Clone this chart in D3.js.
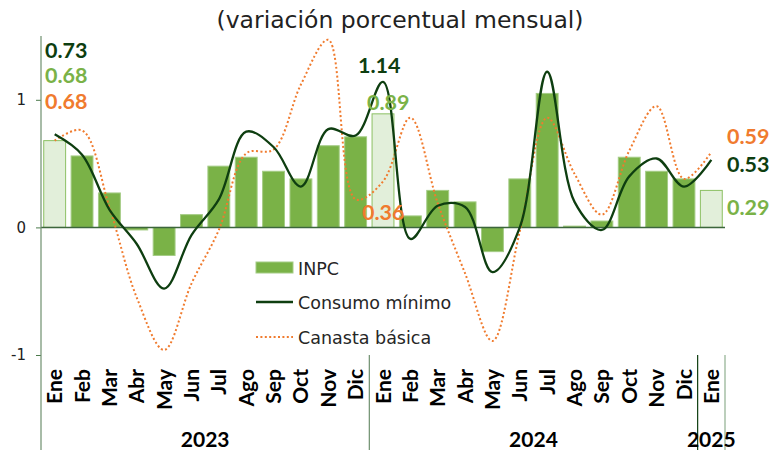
<!DOCTYPE html>
<html lang="es">
<head>
<meta charset="utf-8">
<title>INPC, consumo mínimo y canasta básica</title>
<script src="https://d3js.org/d3.v7.min.js"></script>
<style>
  body { margin: 0; background: #fff; }
  svg { display: block; }
  .month text { font-family: Lato, sans-serif; font-weight: 700; font-size: 21px; fill: #000; }
  .yaxis text { font-family: "DejaVu Sans", sans-serif; font-size: 15px; fill: #222; }
  .lab { font-family: Lato, sans-serif; font-weight: 700; font-size: 21.5px; }
  .leg { font-family: "DejaVu Sans", sans-serif; font-size: 17.5px; fill: #262626; }
</style>
</head>
<body>
<script>
const w = 773, h = 450;

// meses (ene 2023 - ene 2025)
const months = ["Ene","Feb","Mar","Abr","May","Jun","Jul","Ago","Sep","Oct","Nov","Dic",
                "Ene","Feb","Mar","Abr","May","Jun","Jul","Ago","Sep","Oct","Nov","Dic",
                "Ene"];
const years = ["2023", "2024", "2025"];
const yearCounts = [12, 12, 1];

// INPC (barras)
const inpc = [0.68, 0.56, 0.27, -0.02, -0.22, 0.10, 0.48, 0.55, 0.44, 0.38, 0.64, 0.71,
              0.89, 0.09, 0.29, 0.20, -0.19, 0.38, 1.05, 0.01, 0.05, 0.55, 0.44, 0.38,
              0.29];
// Consumo mínimo (línea continua)
const consumo = [0.73, 0.57, 0.14, -0.13, -0.48, -0.06, 0.22, 0.75, 0.63, 0.32, 0.77, 0.72,
                 1.14, -0.09, 0.17, 0.16, -0.35, 0.00, 1.22, 0.20, -0.02, 0.40, 0.54, 0.32,
                 0.53];
// Canasta básica (línea punteada)
const canasta = [0.68, 0.76, 0.16, -0.55, -0.96, -0.44, -0.02, 0.58, 0.61, 1.12, 1.47, 0.22,
                 0.36, 0.86, 0.19, -0.36, -0.89, -0.03, 0.86, 0.42, 0.10, 0.60, 0.95, 0.38,
                 0.59];
const yTicks = [-1, 0, 1];

const cBar = "#7AB247", cBarLight = "#E2EFDA", cDark = "#0E3E10", cOrange = "#F07B2E";

const svg = d3.select("body").append("svg").attr("width", w).attr("height", h);

const x = d3.scaleBand().domain(d3.range(months.length))
  .range([41, 725]).paddingInner(0.2).paddingOuter(0.1);
const y = d3.scaleLinear().domain([-1, 1.5]).range([355, 36]);
const cx = i => x(i) + x.bandwidth() / 2;
const isEne = i => i === 0 || i === 12 || i === 24;

// title
svg.append("text").attr("x", 400).attr("y", 28).attr("text-anchor", "middle")
  .style("font-family", "DejaVu Sans, sans-serif").style("font-size", "23.5px").style("fill", "#222")
  .text("(variación porcentual mensual)");

// bars
svg.append("g").selectAll("rect").data(inpc).join("rect")
  .attr("x", (d, i) => x(i))
  .attr("width", x.bandwidth())
  .attr("y", d => y(Math.max(0, d)))
  .attr("height", d => Math.abs(y(d) - y(0)))
  .attr("fill", (d, i) => isEne(i) ? cBarLight : cBar)
  .attr("stroke", (d, i) => isEne(i) ? "#8CC063" : "#A4CC85")
  .attr("stroke-width", 1);

// zero line
svg.append("line").attr("x1", 41).attr("x2", 725).attr("y1", y(0)).attr("y2", y(0))
  .attr("stroke", "#3C663C").attr("stroke-width", 1.5);

// lines
const line = d3.line().x((d, i) => cx(i)).y(d => y(d)).curve(d3.curveCatmullRom.alpha(0.5));
svg.append("path").datum(canasta).attr("d", line).attr("fill", "none")
  .attr("stroke", cOrange).attr("stroke-width", 2).attr("stroke-dasharray", "2 2.4");
svg.append("path").datum(consumo).attr("d", line).attr("fill", "none")
  .attr("stroke", cDark).attr("stroke-width", 2.3);

// y axis
const yAxis = svg.append("g").attr("class", "yaxis").attr("transform", "translate(41,0)")
  .call(d3.axisLeft(y).tickValues(yTicks).tickSize(5).tickPadding(10).tickFormat(d => String(d)));
yAxis.select(".domain").remove();
yAxis.selectAll(".tick line").attr("stroke", "#4C7A4C");
svg.append("line").attr("x1", 41).attr("x2", 41).attr("y1", 36).attr("y2", h)
  .attr("stroke", "#6E8F6E").attr("stroke-width", 1.2);

// month axis
const xAxis = svg.append("g").attr("class", "month").attr("transform", "translate(0,355)")
  .call(d3.axisBottom(x).tickSize(0).tickFormat(i => months[i]));
xAxis.select(".domain").remove();
xAxis.selectAll("text")
  .attr("transform", "rotate(-90)").attr("x", -14).attr("y", 0).attr("dy", "0.36em")
  .style("text-anchor", "end");

// year separators and labels
const bounds = [0];
yearCounts.forEach(n => bounds.push(bounds[bounds.length - 1] + n));
const bx = i => i >= months.length ? x.range()[1] : x(i) - x.step() * x.paddingOuter();
const sepColors = [null, "#6E8F6E", "#0E3E10", "#8FAF8F"];
bounds.forEach((b, k) => {
  if (k === 0) return;
  svg.append("line").attr("x1", bx(b)).attr("x2", bx(b)).attr("y1", 355).attr("y2", h)
    .attr("stroke", sepColors[k]).attr("stroke-width", 1.2);
});
years.forEach((yr, k) => {
  svg.append("text").attr("x", (bx(bounds[k]) + bx(bounds[k + 1])) / 2).attr("y", 447)
    .attr("text-anchor", "middle")
    .style("font-family", "Lato, sans-serif").style("font-weight", 700).style("font-size", "21px")
    .text(yr);
});

// data labels
const fmt = d3.format(".2f");
const labels = [
  {v: consumo[0], c: cDark, x: 45, y: 58},
  {v: inpc[0], c: cBar, x: 45, y: 83},
  {v: canasta[0], c: cOrange, x: 45, y: 109},
  {v: consumo[12], c: cDark, x: 358, y: 73},
  {v: inpc[12], c: cBar, x: 367, y: 110},
  {v: canasta[12], c: cOrange, x: 362, y: 220},
  {v: canasta[24], c: cOrange, x: 727, y: 144},
  {v: consumo[24], c: cDark, x: 727, y: 172},
  {v: inpc[24], c: cBar, x: 727, y: 215}
];
svg.append("g").selectAll("text").data(labels).join("text")
  .attr("class", "lab").attr("x", d => d.x).attr("y", d => d.y)
  .attr("fill", d => d.c).text(d => fmt(d.v));

// legend
const leg = svg.append("g").attr("transform", "translate(256,0)");
leg.append("rect").attr("x", 0).attr("y", 262).attr("width", 37).attr("height", 11)
  .attr("fill", cBar).attr("stroke", "#A4CC85");
leg.append("line").attr("x1", 0).attr("x2", 37).attr("y1", 302).attr("y2", 302)
  .attr("stroke", cDark).attr("stroke-width", 2.3);
leg.append("line").attr("x1", 0).attr("x2", 37).attr("y1", 337).attr("y2", 337)
  .attr("stroke", cOrange).attr("stroke-width", 2).attr("stroke-dasharray", "2 2.4");
[["INPC", 275], ["Consumo mínimo", 309], ["Canasta básica", 344]].forEach(([t, ty]) => {
  leg.append("text").attr("class", "leg").attr("x", 42).attr("y", ty).text(t);
});
</script>
</body>
</html>
